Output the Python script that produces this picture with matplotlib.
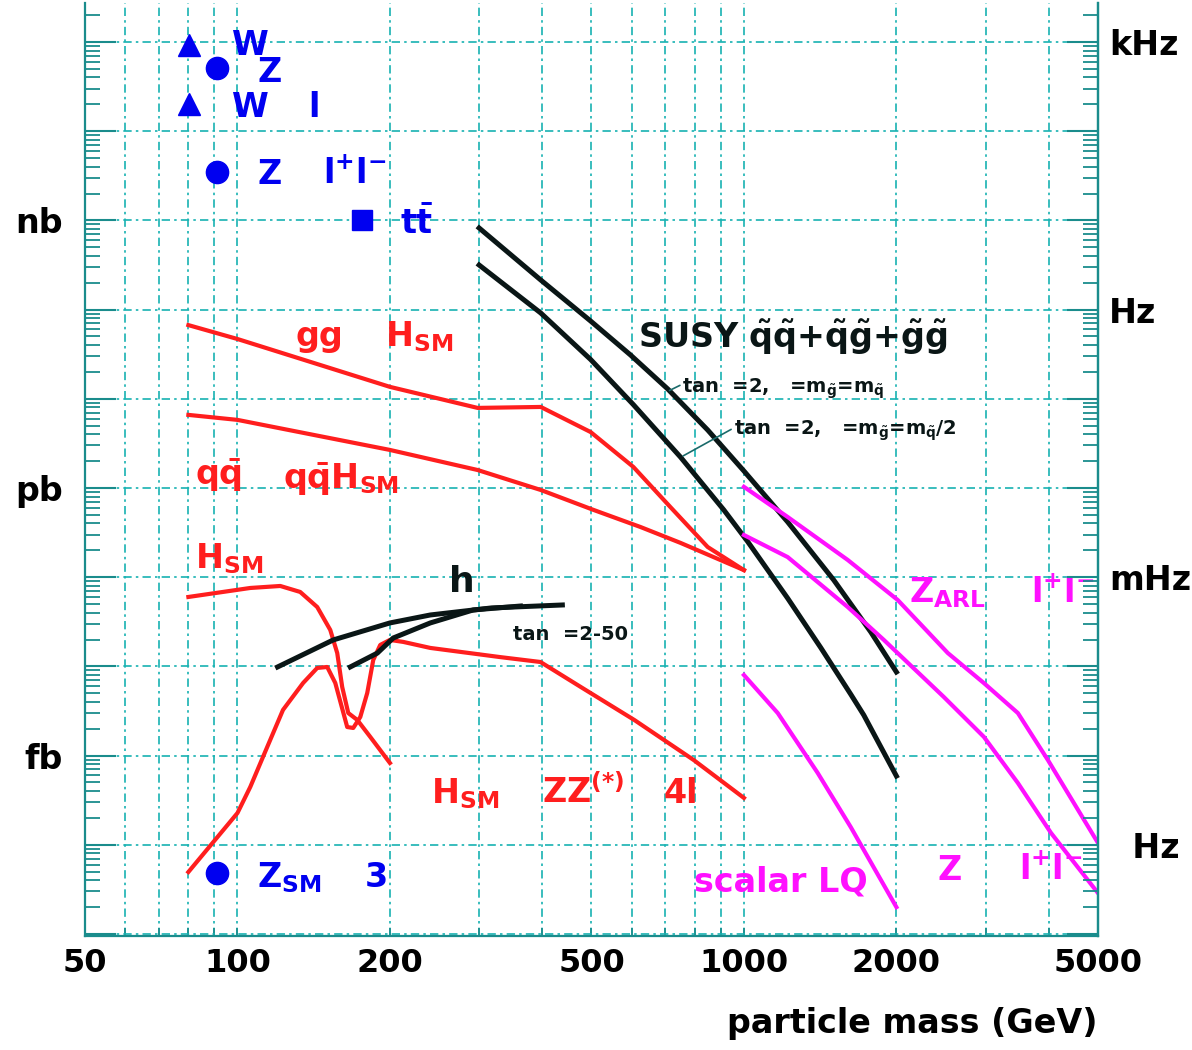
import numpy as np
import matplotlib
matplotlib.use('Agg')
import matplotlib.pyplot as plt
from matplotlib.ticker import FixedLocator, LogLocator, NullFormatter, FuncFormatter

plt.rcParams['font.family'] = ['DejaVu Sans']
plt.rcParams['font.weight'] = 'bold'
plt.rcParams['mathtext.fontset'] = 'custom'
plt.rcParams['mathtext.rm'] = 'DejaVu Sans:bold'
plt.rcParams['mathtext.it'] = 'DejaVu Sans:bold'
plt.rcParams['mathtext.bf'] = 'DejaVu Sans:bold'
plt.rcParams['mathtext.sf'] = 'DejaVu Sans:bold'

# ---------------- data (mass in GeV, cross section in pb) ----------------
gg_H_m = [80, 100, 200, 298, 397, 498, 605, 716, 848, 1000]
gg_H_s = [67, 46.8, 13.6, 7.9, 8.1, 4.24, 1.72, 0.61, 0.218, 0.12]

qq_H_m = [80, 100, 200, 298, 397, 505, 625, 750, 1000]
qq_H_s = [6.6, 5.8, 2.67, 1.59, 0.95, 0.567, 0.365, 0.242, 0.12]

Hgg_m = [80, 106, 121.5, 133, 143.7, 152.5, 157.4, 161, 165.5, 172.4, 182.9, 200]
Hgg_s = [0.060, 0.0757, 0.0797, 0.0683, 0.0463, 0.0256, 0.0141, 0.00587, 0.0030,
         0.00251, 0.00162, 0.000826]

H4l_m = [80, 100, 106, 114.5, 123, 134.8, 143.7, 150.4, 156, 164.7, 169.3, 174.8,
         180.4, 185.4, 191.4, 200, 212.6, 240.3, 330.5, 396.5, 475.7, 608, 795.5, 1000]
H4l_s = [4.95e-5, 2.27e-4, 4.45e-4, 1.25e-3, 3.25e-3, 6.52e-3, 9.6e-3, 9.85e-3,
         6.52e-3, 2.09e-3, 2.04e-3, 2.71e-3, 5.03e-3, 0.0118, 0.0174, 0.0198, 0.0188,
         0.0161, 0.0127, 0.0112, 5.9e-3, 2.5e-3, 8.93e-4, 3.35e-4]

h1_m = [120, 154.6, 200, 240.3, 317, 438]
h1_s = [0.00985, 0.0198, 0.0307, 0.0377, 0.0452, 0.0488]
h2_m = [167, 188.9, 203, 240.3, 292, 362]
h2_s = [0.00985, 0.0141, 0.0208, 0.0307, 0.0429, 0.0475]

susy1_m = [300, 397, 498, 597, 707, 848, 1000, 1220, 1504, 1780, 2000]
susy1_s = [822, 214.7, 74.5, 31.0, 12.9, 4.47, 1.55, 0.416, 0.093, 0.0243, 0.00865]
susy2_m = [300, 397, 498, 605, 750, 912, 1017, 1220, 1418, 1625, 1724, 2000]
susy2_s = [316, 91.6, 27.6, 8.59, 2.21, 0.570, 0.251, 0.058, 0.0162, 0.00487,
           0.00285, 0.00059]

zarl_m = [1000, 1220, 1603, 2012, 2527, 2977, 3474, 3983, 5000]
zarl_s = [1.03, 0.473, 0.156, 0.0555, 0.0141, 0.0065, 0.0030, 0.00089, 0.000105]
zp_m = [1000, 1220, 1603, 1889, 2481, 2977, 3474, 4038, 5000]
zp_s = [0.297, 0.168, 0.0463, 0.0198, 0.00454, 0.00162, 0.000493, 0.000136, 2.88e-5]
lq_m = [1000, 1166, 1398, 1625, 2000]
lq_s = [0.0080, 0.0030, 0.00064, 0.000158, 2.0e-5]

tri_m = [80.4, 80.4]
tri_s = [9.3e4, 2.0e4]
circ_m = [91.2, 91.2, 91.2]
circ_s = [5.1e4, 3.5e3, 4.8e-5]
sq_m = [176]
sq_s = [1010]

x_major = [50, 100, 200, 500, 1000, 2000, 5000]
x_minor = [60, 70, 80, 90, 300, 400, 600, 700, 800, 900, 3000, 4000]
left_labels = {3: 'nb', 0: 'pb', -3: 'fb'}
right_labels = {5: 'kHz', 2: 'Hz', -1: 'mHz', -4: '  Hz'}

# ---------------- style ----------------
RED = '#ff1e1e'
BLUE = '#0000f0'
MAG = '#ff10ff'
BLK = '#0a1616'
GRID = '#18b2b2'
SPINE = '#1a8c8c'

fig = plt.figure(figsize=(11.92, 10.5), dpi=100)
ax = fig.add_axes([0.0713, 0.1086, 0.8498, 0.8886])
ax.set_xscale('log')
ax.set_yscale('log')
ax.set_xlim(50, 5000)
ax.set_ylim(9.5e-6, 2.74e5)
ax.set_axisbelow(True)

gls = (0, (5, 2.5, 1.5, 2.5))
ax.xaxis.set_major_locator(FixedLocator(x_major))
ax.xaxis.set_minor_locator(FixedLocator(x_minor))
ax.xaxis.set_major_formatter(FuncFormatter(lambda v, p: f'{v:g}'))
ax.xaxis.set_minor_formatter(NullFormatter())
ax.yaxis.set_major_locator(LogLocator(base=10, numticks=30))
ax.yaxis.set_minor_locator(LogLocator(base=10, subs=np.arange(2, 10), numticks=30))
ax.yaxis.set_major_formatter(FuncFormatter(
    lambda v, p: left_labels.get(int(round(np.log10(v))), '')))
ax.yaxis.set_minor_formatter(NullFormatter())
ax.grid(True, axis='x', which='both', color=GRID, lw=1.2, ls=gls)
ax.grid(True, axis='y', which='major', color=GRID, lw=1.2, ls=gls)

ax.tick_params(axis='x', which='both', direction='in', length=6, width=1.2,
               color=SPINE, labelsize=23, pad=9, top=False)
ax.tick_params(axis='y', which='major', direction='in', length=22, width=1.5,
               color=SPINE, labelsize=24, pad=16, right=False)
ax.tick_params(axis='y', which='minor', direction='in', length=11, width=1.3,
               color=SPINE, right=False)
for lab in ax.get_xticklabels() + ax.get_yticklabels():
    lab.set_fontweight('bold')
for s in ['left', 'bottom', 'right']:
    ax.spines[s].set_color(SPINE)
    ax.spines[s].set_linewidth(1.6)
ax.spines['top'].set_visible(False)

tw = ax.twinx()
tw.set_yscale('log')
tw.set_ylim(ax.get_ylim())
tw.yaxis.set_major_locator(LogLocator(base=10, numticks=30))
tw.yaxis.set_minor_locator(LogLocator(base=10, subs=np.arange(2, 10), numticks=30))
tw.yaxis.set_major_formatter(FuncFormatter(
    lambda v, p: right_labels.get(int(round(np.log10(v))), '')))
tw.yaxis.set_minor_formatter(NullFormatter())
tw.tick_params(axis='y', which='major', direction='in', length=22, width=1.5,
               color=SPINE, labelsize=24, pad=8)
tw.tick_params(axis='y', which='minor', direction='in', length=11, width=1.3,
               color=SPINE)
for lab in tw.get_yticklabels():
    lab.set_fontweight('bold')
for s in tw.spines.values():
    s.set_visible(False)
tw.spines['right'].set_visible(True)
tw.spines['right'].set_color(SPINE)
tw.spines['right'].set_linewidth(1.6)

ax.set_xlabel('particle mass (GeV)', fontsize=24, fontweight='bold', loc='right',
              labelpad=20)

# ---------------- curves ----------------
ax.plot(gg_H_m, gg_H_s, color=RED, lw=3)
ax.plot(qq_H_m, qq_H_s, color=RED, lw=3)
ax.plot(Hgg_m, Hgg_s, color=RED, lw=3)
ax.plot(H4l_m, H4l_s, color=RED, lw=3)
ax.plot(h1_m, h1_s, color=BLK, lw=3.6)
ax.plot(h2_m, h2_s, color=BLK, lw=3.6)
ax.plot(susy1_m, susy1_s, color=BLK, lw=3.6)
ax.plot(susy2_m, susy2_s, color=BLK, lw=3.6)
ax.plot(zarl_m, zarl_s, color=MAG, lw=3)
ax.plot(zp_m, zp_s, color=MAG, lw=3)
ax.plot(lq_m, lq_s, color=MAG, lw=3)

ax.plot(tri_m, tri_s, ls='none', marker='^', ms=16, color=BLUE)
ax.plot(circ_m, circ_s, ls='none', marker='o', ms=16, color=BLUE)
ax.plot(sq_m, sq_s, ls='none', marker='s', ms=15, color=BLUE)

# ---------------- labels ----------------
def t(x, y, s, c, fs=24):
    ax.text(x, y, s, color=c, fontsize=fs, fontweight='bold', ha='left', va='baseline')

t(97.6, 7.2e4, 'W', BLUE)
t(109.4, 3.6e4, 'Z', BLUE)
t(97.6, 1.44e4, 'W', BLUE)
t(138, 1.44e4, 'l', BLUE)
t(109.4, 2.56e3, 'Z', BLUE)
t(147.7, 2.56e3, r'l$^{+}$l$^{-}$', BLUE)
t(209.7, 704, r't$\bar{\mathrm{t}}$', BLUE)
t(109.4, 3.36e-5, r'Z$_{\mathrm{SM}}$', BLUE)
t(178, 3.36e-5, '3', BLUE)

t(130, 39.1, 'gg', RED)
t(195.8, 39.1, r'H$_{\mathrm{SM}}$', RED)
t(82.5, 1.08, r'q$\bar{\mathrm{q}}$', RED)
t(123, 0.974, r'q$\bar{\mathrm{q}}$H$_{\mathrm{SM}}$', RED)
t(82.5, 0.127, r'H$_{\mathrm{SM}}$', RED)
t(241.4, 2.94e-4, r'H$_{\mathrm{SM}}$', RED)
t(400, 2.94e-4, r'ZZ$^{(*)}$', RED)
t(694, 2.94e-4, '4l', RED)

t(262, 0.0683, 'h', BLK, 26)
t(350.5, 0.0198, 'tan  =2-50', BLK, 14)
t(616.6, 37.1, r'SUSY $\tilde{\mathrm{q}}\tilde{\mathrm{q}}$+$\tilde{\mathrm{q}}\tilde{\mathrm{g}}$+$\tilde{\mathrm{g}}\tilde{\mathrm{g}}$', BLK)
t(756, 11.6, r'tan  =2,   =m$_{\tilde{\mathrm{g}}}$=m$_{\tilde{\mathrm{q}}}$', BLK, 14)
t(954, 3.93, r'tan  =2,   =m$_{\tilde{\mathrm{g}}}$=m$_{\tilde{\mathrm{q}}}$/2', BLK, 14)
ax.annotate('', xy=(705, 12.0), xytext=(756, 14.6),
            arrowprops=dict(arrowstyle='-', color='#1a6a6a', lw=1.2))
ax.annotate('', xy=(750, 2.21), xytext=(954, 4.70),
            arrowprops=dict(arrowstyle='-', color='#1a6a6a', lw=1.2))

t(2116, 0.0527, r'Z$_{\mathrm{ARL}}$', MAG)
t(3686, 0.0514, r'l$^{+}$l$^{-}$', MAG)
t(795.5, 2.96e-5, 'scalar LQ', MAG)
t(2414, 4.03e-5, 'Z', MAG)
t(3490, 4.03e-5, r'l$^{+}$l$^{-}$', MAG)

fig.savefig('out.png', dpi=100)
